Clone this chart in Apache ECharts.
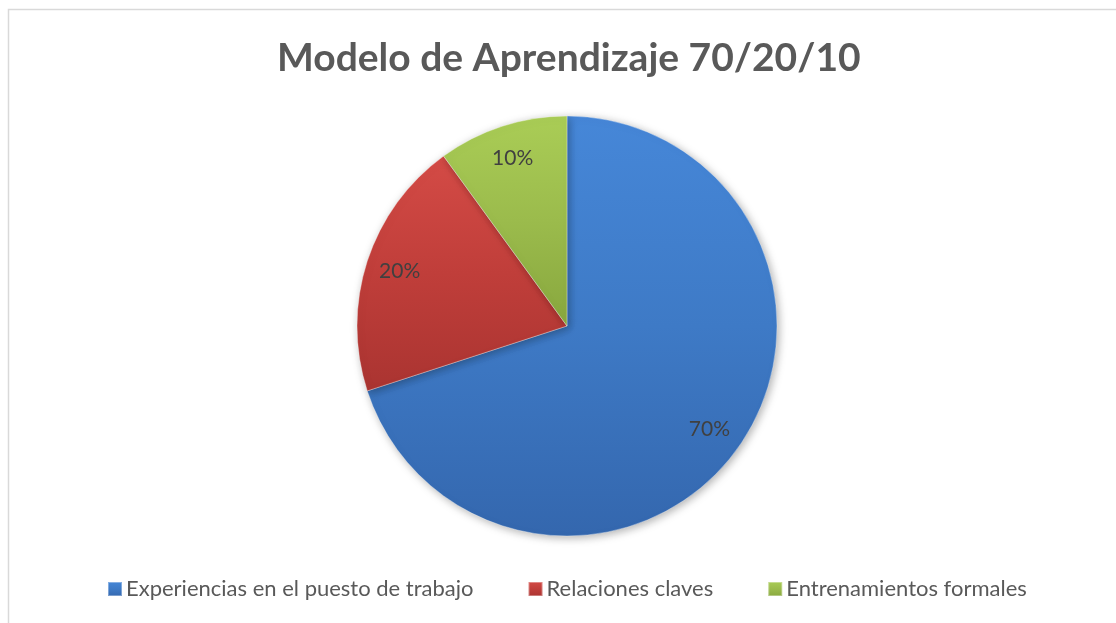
<!DOCTYPE html>
<html>
<head>
<meta charset="utf-8">
<script src="https://cdn.jsdelivr.net/npm/echarts@6/dist/echarts.min.js"></script>
<style>
  html, body { margin: 0; padding: 0; background: #fff; }
  #main { width: 1116px; height: 623px; }
</style>
</head>
<body>
<div id="main"></div>
<script>
// data
var categories = ['Experiencias en el puesto de trabajo', 'Relaciones claves', 'Entrenamientos formales'];
var shares = [70, 20, 10];
var sliceColors = [
  ['#4687d8', '#3e7ac6', '#3467ae'],
  ['#d44b46', '#c03e3a', '#aa3431'],
  ['#aacd56', '#9bbb4c', '#88a73e']
];

function grad(c) {
  return new echarts.graphic.LinearGradient(0, 0, 0, 1, [
    { offset: 0, color: c[0] },
    { offset: 0.5, color: c[1] },
    { offset: 1, color: c[2] }
  ]);
}

var chart = echarts.init(document.getElementById('main'), null, { renderer: 'canvas' });

var pieData = categories.map(function (name, i) {
  return { name: name, value: shares[i], itemStyle: { color: grad(sliceColors[i]) } };
});

var option = {
  backgroundColor: '#fff',
  animation: false,
  title: {
    text: 'Modelo de Aprendizaje 70/20/10',
    left: 272,
    top: 34,
    textStyle: {
      fontFamily: 'Lato',
      fontWeight: 'bold',
      fontSize: 39,
      color: '#595959'
    }
  },
  legend: {
    data: categories,
    bottom: 18,
    left: 102,
    icon: 'rect',
    itemWidth: 14,
    itemHeight: 14,
    itemGap: 54,
    textStyle: {
      fontFamily: 'Lato',
      fontSize: 22,
      color: '#595959',
      padding: [0, 0, 0, -1]
    }
  },
  graphic: [{
    type: 'rect',
    shape: { x: 8.5, y: 9.5, width: 1300, height: 800 },
    style: { fill: 'none', stroke: '#d9d9d9', lineWidth: 1.5 },
    silent: true,
    z: -1
  }],
  series: [
    {
      type: 'pie',
      center: [567, 326],
      radius: [0, 210],
      startAngle: 90,
      clockwise: true,
      label: { show: false },
      labelLine: { show: false },
      itemStyle: {
        borderColor: 'rgba(255,255,255,0.35)',
        borderWidth: 1,
        shadowBlur: 8,
        shadowColor: 'rgba(0,0,0,0.3)',
        shadowOffsetX: 2,
        shadowOffsetY: 2
      },
      emphasis: { disabled: true },
      data: pieData
    },
    {
      // label ring, places percentages at ~0.83 r like the original
      type: 'pie',
      center: [567, 326],
      radius: [136, 210],
      startAngle: 90,
      clockwise: true,
      silent: true,
      itemStyle: { color: 'transparent', borderWidth: 0 },
      label: {
        show: true,
        position: 'inside',
        formatter: '{d}%',
        fontFamily: 'Lato',
        fontSize: 21,
        color: '#404040'
      },
      labelLine: { show: false },
      emphasis: { disabled: true },
      data: categories.map(function (name, i) { return { name: name, value: shares[i] }; })
    }
  ]
};

chart.setOption(option);
</script>
</body>
</html>
